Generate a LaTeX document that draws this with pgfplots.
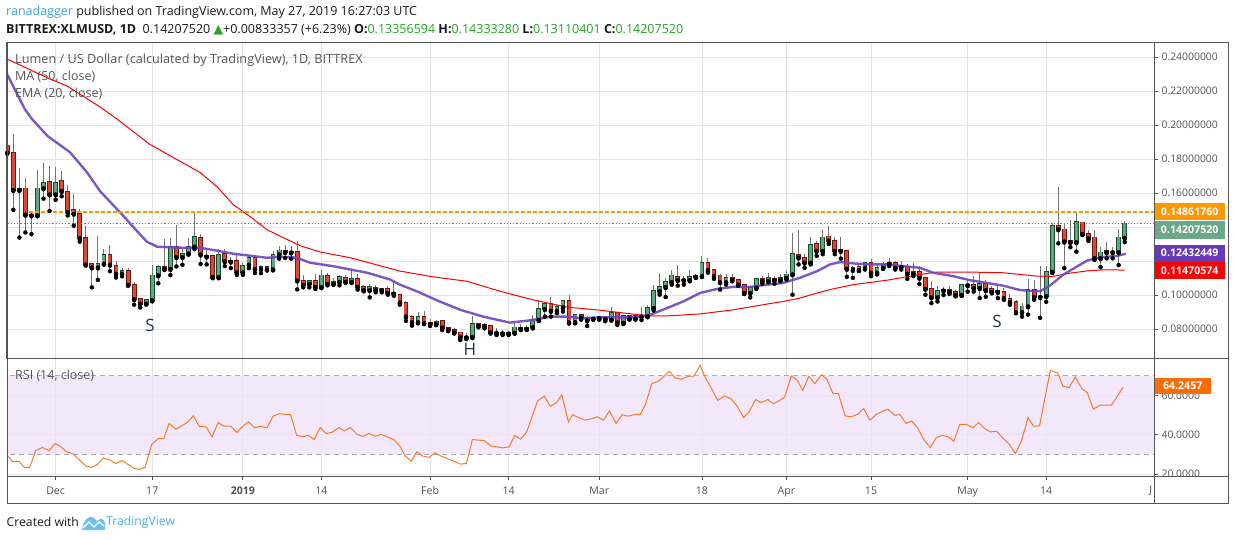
\documentclass[border=0pt]{standalone}
\usepackage{fontspec}
\setmainfont{Open Sans}
\newfontfamily\dejavu{DejaVu Sans}
\usepackage{pgfplots}
\pgfplotsset{compat=1.18}
\usepackage{pgfplotstable}
\definecolor{tvblue}{RGB}{59,160,230}
\definecolor{tvblue2}{RGB}{70,172,230}
\definecolor{txtdark}{RGB}{25,25,25}
\definecolor{hdrgreen}{RGB}{35,165,35}
\definecolor{labelcol}{RGB}{80,80,80}
\definecolor{legendcol}{RGB}{85,85,85}
\definecolor{gridcol}{RGB}{228,228,228}
\definecolor{framecol}{RGB}{85,85,85}
\definecolor{upfill}{RGB}{96,166,128}
\definecolor{upedge}{RGB}{25,75,45}
\definecolor{dnfill}{RGB}{221,72,52}
\definecolor{dnedge}{RGB}{105,25,18}
\definecolor{wickcol}{RGB}{115,115,115}
\definecolor{emacol}{RGB}{110,70,190}
\definecolor{macol}{RGB}{255,0,0}
\definecolor{orangecol}{RGB}{255,152,0}
\definecolor{greenline}{RGB}{80,140,110}
\definecolor{greenbox}{RGB}{106,168,135}
\definecolor{purplebox}{RGB}{103,58,183}
\definecolor{bandcol}{RGB}{240,225,251}
\definecolor{dashcol}{RGB}{175,165,185}
\definecolor{rsicol}{RGB}{245,124,40}
\definecolor{rsibox}{RGB}{255,109,0}
\definecolor{hscol}{RGB}{35,55,75}
\definecolor{logolight}{RGB}{110,190,240}

\pgfplotstableread{
i o h l c
0 0.1880 0.1885 0.1836 0.1836
1 0.1836 0.1946 0.1501 0.1617
2 0.1617 0.1747 0.1338 0.1627
3 0.1627 0.1687 0.1368 0.1472
4 0.1472 0.1488 0.1358 0.1468
5 0.1468 0.1737 0.1466 0.1627
6 0.1627 0.1777 0.1567 0.1657
7 0.1663 0.1761 0.1494 0.1591
8 0.1591 0.1753 0.1560 0.1657
9 0.1669 0.1731 0.1581 0.1611
10 0.1607 0.1647 0.1468 0.1488
11 0.1498 0.1593 0.1408 0.1478
12 0.1478 0.1508 0.1314 0.1334
13 0.1334 0.1404 0.1178 0.1178
14 0.1182 0.1188 0.1045 0.1162
15 0.1162 0.1348 0.1089 0.1184
16 0.1184 0.1268 0.1180 0.1238
17 0.1238 0.1294 0.1140 0.1178
18 0.1172 0.1202 0.1103 0.1125
19 0.1125 0.1158 0.1110 0.1143
20 0.1143 0.1158 0.1059 0.1059
21 0.1059 0.1075 0.0943 0.0975
22 0.0975 0.0979 0.0927 0.0949
23 0.0949 0.0973 0.0945 0.0969
24 0.0969 0.1174 0.0963 0.1115
25 0.1115 0.1178 0.1069 0.1164
26 0.1164 0.1328 0.1150 0.1153
27 0.1153 0.1338 0.1117 0.1284
28 0.1284 0.1414 0.1168 0.1222
29 0.1222 0.1272 0.1178 0.1244
30 0.1244 0.1338 0.1238 0.1284
31 0.1284 0.1488 0.1270 0.1344
32 0.1338 0.1358 0.1182 0.1238
33 0.1232 0.1276 0.1180 0.1226
34 0.1228 0.1238 0.1099 0.1105
35 0.1105 0.1268 0.1099 0.1238
36 0.1242 0.1272 0.1170 0.1198
37 0.1200 0.1226 0.1158 0.1196
38 0.1200 0.1242 0.1119 0.1133
39 0.1133 0.1188 0.1119 0.1172
40 0.1178 0.1238 0.1158 0.1218
41 0.1218 0.1238 0.1129 0.1153
42 0.1153 0.1178 0.1129 0.1164
43 0.1164 0.1172 0.1145 0.1150
44 0.1150 0.1258 0.1147 0.1238
45 0.1238 0.1288 0.1214 0.1262
46 0.1262 0.1294 0.1218 0.1252
47 0.1252 0.1290 0.1214 0.1250
48 0.1256 0.1320 0.1033 0.1085
49 0.1085 0.1115 0.1045 0.1059
50 0.1065 0.1090 0.1045 0.1085
51 0.1085 0.1125 0.1036 0.1046
52 0.1046 0.1150 0.1042 0.1115
53 0.1111 0.1131 0.1057 0.1065
54 0.1065 0.1101 0.1063 0.1079
55 0.1077 0.1115 0.1057 0.1107
56 0.1101 0.1115 0.1075 0.1077
57 0.1077 0.1154 0.1071 0.1095
58 0.1095 0.1121 0.1032 0.1048
59 0.1048 0.1061 0.1022 0.1028
60 0.1028 0.1067 0.0986 0.1048
61 0.1042 0.1061 0.1016 0.1028
62 0.1028 0.1044 0.1016 0.1034
63 0.1034 0.1051 0.1002 0.1012
64 0.1014 0.1081 0.0996 0.1008
65 0.1000 0.1008 0.0943 0.0956
66 0.0952 0.0966 0.0848 0.0873
67 0.0873 0.0883 0.0820 0.0840
68 0.0840 0.0903 0.0834 0.0873
69 0.0873 0.0907 0.0834 0.0834
70 0.0834 0.0862 0.0818 0.0828
71 0.0828 0.0852 0.0824 0.0840
72 0.0848 0.0854 0.0794 0.0808
73 0.0808 0.0814 0.0788 0.0794
74 0.0794 0.0804 0.0774 0.0780
75 0.0780 0.0784 0.0735 0.0751
76 0.0751 0.0774 0.0741 0.0753
77 0.0753 0.0877 0.0747 0.0828
78 0.0828 0.0834 0.0810 0.0820
79 0.0824 0.0834 0.0804 0.0814
80 0.0818 0.0824 0.0774 0.0780
81 0.0780 0.0804 0.0765 0.0778
82 0.0780 0.0794 0.0765 0.0774
83 0.0774 0.0784 0.0765 0.0778
84 0.0778 0.0834 0.0774 0.0810
85 0.0810 0.0830 0.0794 0.0800
86 0.0800 0.0826 0.0796 0.0810
87 0.0810 0.0883 0.0804 0.0853
88 0.0853 0.0972 0.0848 0.0917
89 0.0917 0.0953 0.0873 0.0947
90 0.0947 0.0988 0.0873 0.0907
91 0.0907 0.0943 0.0893 0.0929
92 0.0927 0.0972 0.0903 0.0966
93 0.0966 0.1002 0.0834 0.0838
94 0.0840 0.0887 0.0834 0.0881
95 0.0881 0.0889 0.0855 0.0867
96 0.0867 0.0877 0.0818 0.0850
97 0.0860 0.0877 0.0855 0.0867
98 0.0863 0.0871 0.0855 0.0869
99 0.0869 0.0877 0.0846 0.0857
100 0.0855 0.0929 0.0850 0.0897
101 0.0893 0.0903 0.0824 0.0838
102 0.0836 0.0881 0.0830 0.0875
103 0.0875 0.0881 0.0857 0.0861
104 0.0861 0.0883 0.0857 0.0875
105 0.0873 0.0927 0.0853 0.0875
106 0.0875 0.0943 0.0871 0.0923
107 0.0923 0.1061 0.0909 0.1026
108 0.1022 0.1127 0.1002 0.1050
109 0.1046 0.1101 0.0988 0.1077
110 0.1075 0.1150 0.1061 0.1115
111 0.1107 0.1174 0.1055 0.1087
112 0.1091 0.1111 0.1061 0.1087
113 0.1087 0.1145 0.1081 0.1107
114 0.1107 0.1121 0.1101 0.1113
115 0.1111 0.1230 0.1107 0.1190
116 0.1190 0.1220 0.1131 0.1147
117 0.1147 0.1151 0.1095 0.1111
118 0.1115 0.1125 0.1032 0.1075
119 0.1075 0.1121 0.1061 0.1101
120 0.1101 0.1121 0.1081 0.1087
121 0.1091 0.1097 0.1055 0.1061
122 0.1057 0.1061 0.1006 0.1012
123 0.1012 0.1052 0.0986 0.1042
124 0.1042 0.1101 0.1036 0.1095
125 0.1095 0.1111 0.1067 0.1081
126 0.1081 0.1127 0.1075 0.1101
127 0.1097 0.1111 0.1067 0.1087
128 0.1087 0.1121 0.1081 0.1101
129 0.1101 0.1141 0.1091 0.1121
130 0.1121 0.1364 0.1002 0.1240
131 0.1234 0.1384 0.1180 0.1220
132 0.1220 0.1240 0.1160 0.1190
133 0.1190 0.1339 0.1180 0.1293
134 0.1299 0.1319 0.1230 0.1259
135 0.1259 0.1384 0.1240 0.1339
136 0.1345 0.1406 0.1300 0.1319
137 0.1319 0.1339 0.1240 0.1259
138 0.1265 0.1339 0.1214 0.1259
139 0.1259 0.1265 0.1107 0.1154
140 0.1160 0.1170 0.1101 0.1147
141 0.1147 0.1190 0.1141 0.1166
142 0.1160 0.1194 0.1150 0.1190
143 0.1190 0.1210 0.1111 0.1131
144 0.1131 0.1180 0.1121 0.1160
145 0.1160 0.1194 0.1154 0.1176
146 0.1184 0.1220 0.1170 0.1190
147 0.1190 0.1200 0.1150 0.1160
148 0.1164 0.1200 0.1150 0.1166
149 0.1166 0.1180 0.1095 0.1125
150 0.1125 0.1190 0.1111 0.1137
151 0.1137 0.1170 0.1065 0.1101
152 0.1101 0.1107 0.1002 0.1036
153 0.1036 0.1081 0.0952 0.0986
154 0.0986 0.1055 0.0962 0.1026
155 0.1026 0.1048 0.1000 0.1030
156 0.1030 0.1052 0.1006 0.1018
157 0.1018 0.1028 0.0992 0.1000
158 0.1000 0.1067 0.0996 0.1059
159 0.1059 0.1081 0.1020 0.1057
160 0.1059 0.1111 0.1020 0.1040
161 0.1040 0.1131 0.0982 0.1065
162 0.1065 0.1091 0.0990 0.1028
163 0.1036 0.1055 0.1010 0.1018
164 0.1018 0.1065 0.0982 0.1026
165 0.1020 0.1042 0.0972 0.0982
166 0.0978 0.1004 0.0943 0.0958
167 0.0958 0.0972 0.0893 0.0899
168 0.0899 0.0952 0.0873 0.0933
169 0.0933 0.1094 0.0885 0.1031
170 0.1031 0.1091 0.0972 0.0987
171 0.0988 0.1168 0.0866 0.0992
172 0.0993 0.1168 0.0960 0.1136
173 0.1136 0.1421 0.1130 0.1405
174 0.1405 0.1635 0.1304 0.1386
175 0.1386 0.1421 0.1158 0.1314
176 0.1318 0.1440 0.1281 0.1310
177 0.1310 0.1493 0.1255 0.1431
178 0.1427 0.1431 0.1353 0.1359
179 0.1357 0.1382 0.1318 0.1333
180 0.1339 0.1382 0.1206 0.1216
181 0.1216 0.1284 0.1164 0.1251
182 0.1259 0.1314 0.1216 0.1251
183 0.1255 0.1284 0.1216 0.1251
184 0.1251 0.1386 0.1176 0.1339
185 0.1336 0.1433 0.1311 0.1421
}\candles

\pgfplotstableread{
i v
-0.05 0.2300
2.9 0.2093
4.1 0.2034
6.7 0.1934
10.4 0.1839
13.2 0.1721
15.4 0.1609
18.7 0.1485
20.8 0.1402
23.1 0.1314
24.8 0.1284
29.1 0.1278
31.9 0.1278
34.7 0.1261
37.4 0.1243
40.2 0.1231
43.0 0.1219
45.2 0.1225
47.3 0.1222
48.5 0.1212
50.1 0.1190
53.9 0.1170
59.6 0.1131
63.4 0.1091
65.0 0.1061
67.8 0.1022
71.6 0.0962
75.0 0.0913
78.8 0.0873
83.2 0.0838
87.0 0.0853
89.9 0.0873
92.7 0.0873
95.3 0.0863
98.1 0.0869
103.6 0.0869
106.4 0.0883
109.2 0.0923
111.9 0.0962
114.7 0.1012
117.5 0.1036
120.2 0.1048
123.0 0.1048
125.8 0.1061
128.4 0.1071
131.2 0.1101
134.1 0.1141
136.2 0.1180
137.9 0.1194
140.0 0.1186
142.8 0.1180
145.6 0.1180
148.3 0.1170
151.1 0.1160
153.3 0.1131
156.6 0.1111
159.4 0.1087
162.2 0.1071
164.9 0.1055
167.7 0.1029
171.0 0.1022
172.6 0.1055
174.8 0.1119
177.1 0.1168
178.8 0.1203
180.9 0.1222
183.7 0.1230
185.2 0.1243
}\ema

\pgfplotstableread{
i v
-0.05 0.2388
7.1 0.2270
9.9 0.2229
15.4 0.2105
18.2 0.2034
23.6 0.1886
31.9 0.1721
34.7 0.1638
37.4 0.1532
40.2 0.1461
43.0 0.1384
45.7 0.1337
48.5 0.1290
51.8 0.1253
56.7 0.1220
65.0 0.1141
70.5 0.1107
76.1 0.1081
81.6 0.1022
87.0 0.0972
92.7 0.0929
98.1 0.0911
103.6 0.0888
106.4 0.0877
109.2 0.0877
114.7 0.0889
120.2 0.0913
125.8 0.0947
128.4 0.0962
131.2 0.0982
134.1 0.1012
136.2 0.1032
140.0 0.1061
145.6 0.1087
151.1 0.1121
153.9 0.1135
159.4 0.1135
164.9 0.1131
170.5 0.1111
173.1 0.1110
176.0 0.1129
178.8 0.1142
181.4 0.1148
185.0 0.1147
}\sma

\pgfplotstableread{
i r
-0.1 30.0
0.9 26.3
1.9 26.6
2.8 23.4
3.7 23.4
4.7 31.9
5.8 33.6
6.9 31.9
7.9 35.6
8.9 33.9
9.8 31.4
10.9 30.3
12.0 27.1
13.0 24.1
14.0 23.4
15.0 25.1
15.9 28.3
17.0 27.1
18.0 25.4
19.0 26.9
20.0 24.9
21.0 22.9
21.9 22.4
22.8 23.4
23.9 35.1
25.0 38.1
25.9 38.1
26.8 45.8
27.9 42.9
28.9 44.6
29.9 46.6
30.8 49.7
31.8 44.4
32.9 44.1
33.9 39.0
34.9 46.3
35.9 44.4
37.0 44.4
38.0 41.2
38.9 44.1
39.9 46.6
41.0 43.6
41.9 44.4
43.0 43.6
44.0 49.5
45.0 50.8
45.9 50.5
46.9 50.3
47.9 39.8
48.9 39.0
49.8 39.8
50.8 37.6
51.8 43.7
52.8 40.7
53.8 41.4
54.9 43.7
55.8 42.0
56.8 43.7
57.9 40.3
58.9 39.2
59.9 40.7
60.9 39.3
61.9 40.2
62.9 39.0
64.0 37.6
65.0 34.2
65.9 29.2
66.9 26.6
67.8 31.4
68.8 29.2
69.8 28.5
70.8 30.8
71.8 29.2
72.8 28.0
73.9 26.6
75.0 25.1
76.0 25.4
77.0 37.6
78.1 37.3
79.0 37.1
80.0 34.4
81.0 33.9
82.0 33.4
83.1 33.9
84.0 39.7
85.0 37.8
86.0 41.5
86.9 49.5
87.8 57.3
88.9 59.8
89.9 54.6
90.9 56.3
91.8 60.5
92.9 46.6
93.6 50.3
94.7 48.6
95.7 47.5
96.8 48.3
97.7 49.2
98.7 47.5
99.7 52.2
100.8 45.8
101.8 50.3
102.7 49.5
103.8 50.3
104.8 50.3
105.7 55.9
106.7 66.1
107.8 67.3
108.7 69.8
109.6 72.4
110.6 69.0
111.6 68.3
112.7 69.8
113.7 70.0
114.7 75.4
115.6 69.0
116.6 63.6
117.6 57.6
118.7 59.8
119.8 58.5
120.8 54.7
121.9 48.8
122.8 51.7
123.9 58.0
124.8 56.4
125.9 58.0
126.8 55.9
127.8 57.3
128.7 59.3
129.8 70.0
130.8 67.8
131.7 62.7
132.7 69.8
133.7 66.1
134.8 70.7
135.7 68.3
136.7 61.0
137.6 61.0
138.7 49.7
139.7 49.2
140.8 50.5
141.8 53.4
142.8 47.5
143.9 50.5
144.9 52.0
145.8 53.1
146.9 50.0
147.8 50.3
148.8 45.8
149.7 47.1
150.7 43.6
151.8 37.3
152.8 33.6
153.8 38.6
154.8 39.8
155.8 39.0
156.7 36.8
157.7 45.4
158.8 45.3
159.9 43.6
160.8 46.3
161.8 43.2
162.8 41.5
163.8 41.9
164.9 38.1
165.8 35.6
166.9 30.5
167.9 36.8
169.0 48.8
169.9 44.4
170.9 44.6
171.8 59.0
172.7 72.9
173.9 71.5
174.8 64.7
175.8 64.1
176.8 69.5
177.9 63.6
178.8 61.5
179.8 53.1
180.9 55.1
181.8 55.1
182.8 55.1
183.8 59.8
184.7 64.2
}\rsi

\begin{document}
\begin{tikzpicture}[x=1pt,y=1pt]
\path[use as bounding box] (0,0) rectangle (1234,-540);

% ---------------- price panel ----------------
\begin{axis}[
  at={(7pt,-358pt)}, anchor=south west,
  width=1147pt, height=315pt, scale only axis,
  xmin=-0.05, xmax=189.85, ymin=0.06298, ymax=0.2482,
  axis line style={draw=framecol, line width=1pt},
  grid=major, grid style={draw=gridcol, line width=0.8pt},
  xtick={8,24,39,52,70,83,98,115,129,143,159,172}, xticklabels={},
  x tick style={draw=none},
  ytick={0.08,0.10,0.12,0.14,0.16,0.18,0.20,0.22,0.24},
  yticklabels={0.08000000,0.10000000,,,0.16000000,0.18000000,0.20000000,0.22000000,0.24000000},
  scaled y ticks=false,
  ytick pos=right, yticklabel pos=right,
  y tick style={draw=labelcol, line width=0.8pt}, tick align=outside, major tick length=4pt,
  yticklabel style={font=\fontsize{10.4}{12}\selectfont, text=labelcol},
]
% wicks
\addplot[only marks, mark=none, forget plot,
  error bars/.cd, y dir=plus, y explicit, error mark=none,
  error bar style={draw=wickcol, line width=1pt}]
  table[x=i, y=l, y error plus expr={\thisrow{h}-\thisrow{l}}] {\candles};
% up bodies
\addplot[only marks, mark=none, forget plot,
  restrict expr to domain={\thisrow{c}-\thisrow{o}}{0:1},
  error bars/.cd, y dir=plus, y explicit, error mark=none,
  error bar style={draw=upedge, line width=4.8pt}]
  table[x=i, y expr={\thisrow{o}-0.0005}, y error plus expr={\thisrow{c}-\thisrow{o}+0.001}] {\candles};
\addplot[only marks, mark=none, forget plot,
  restrict expr to domain={\thisrow{c}-\thisrow{o}}{0:1},
  error bars/.cd, y dir=plus, y explicit, error mark=none,
  error bar style={draw=upfill, line width=3pt}]
  table[x=i, y=o, y error plus expr={\thisrow{c}-\thisrow{o}}] {\candles};
% down bodies
\addplot[only marks, mark=none, forget plot,
  restrict expr to domain={\thisrow{o}-\thisrow{c}}{0.00001:1},
  error bars/.cd, y dir=plus, y explicit, error mark=none,
  error bar style={draw=dnedge, line width=4.8pt}]
  table[x=i, y expr={\thisrow{c}-0.0005}, y error plus expr={\thisrow{o}-\thisrow{c}+0.001}] {\candles};
\addplot[only marks, mark=none, forget plot,
  restrict expr to domain={\thisrow{o}-\thisrow{c}}{0.00001:1},
  error bars/.cd, y dir=plus, y explicit, error mark=none,
  error bar style={draw=dnfill, line width=3pt}]
  table[x=i, y=c, y error plus expr={\thisrow{o}-\thisrow{c}}] {\candles};
% moving averages
\addplot[macol, line width=1pt, mark=none] table[x=i, y=v] {\sma};
\addplot[emacol, line width=2.4pt, mark=none, opacity=0.9] table[x=i, y=v] {\ema};
% horizontal lines
\addplot[orangecol, line width=2pt, dash pattern=on 4pt off 2pt, mark=none] coordinates {(3.6,0.1486176) (191,0.1486176)};
\addplot[greenline, line width=0.8pt, dash pattern=on 1.2pt off 2pt, mark=none] coordinates {(-1,0.1420752) (191,0.1420752)};
\end{axis}

% ---------------- RSI panel ----------------
\begin{axis}[
  at={(7pt,-476pt)}, anchor=south west,
  width=1147pt, height=118pt, scale only axis,
  xmin=-0.05, xmax=189.85, ymin=19.04, ymax=79.17,
  axis line style={draw=framecol, line width=1pt},
  grid=major, grid style={draw=gridcol, line width=0.8pt},
  xtick={8,24,39,52,70,83,98,115,129,143,159,172},
  xticklabels={Dec,17,\textbf{2019},14,Feb,14,Mar,18,Apr,15,May,14},
  xtick pos=bottom,
  ytick={20,40,60}, yticklabels={20.0000,40.0000,60.0000},
  ytick pos=right, yticklabel pos=right,
  tick style={draw=labelcol, line width=0.8pt}, tick align=outside, major tick length=4pt,
  yticklabel style={font=\fontsize{10.4}{12}\selectfont, text=labelcol},
  xticklabel style={font=\fontsize{10.6}{12}\selectfont, text=labelcol, yshift=-3pt},
]
\addplot[draw=none, fill=bandcol, fill opacity=0.8, forget plot] coordinates {(-1,30) (-1,70) (200,70) (200,30) (-1,30)};
\addplot[dashcol, line width=1pt, dash pattern=on 5pt off 4pt, mark=none] coordinates {(-1,70) (200,70)};
\addplot[dashcol, line width=1pt, dash pattern=on 5pt off 4pt, mark=none] coordinates {(-1,30) (200,30)};
\addplot[rsicol, line width=1pt, mark=none] table[x=i, y=r] {\rsi};
\end{axis}

% cut the lower half of the last RSI label, as in the reference
\fill[white] (1154.6,-476.6) rectangle (1227.4,-486);
% frame of the widget
\draw[framecol, line width=1pt] (7,-43) rectangle (1228,-503);
\draw[framecol, line width=1pt] (1154,-43) -- (1154,-503);
\draw[framecol, line width=1pt] (1154,-358) -- (1228,-358);
\draw[framecol, line width=1pt] (1154,-476) -- (1228,-476);

% ---------------- texts ----------------
\node[anchor=west, inner sep=0, font=\fontsize{12.5}{14}\selectfont, text=txtdark] at (6,-12)
  {\textcolor{tvblue}{ranadagger} published on TradingView.com, May 27, 2019 16:27:03 UTC};
\node[anchor=west, inner sep=0, font=\fontsize{12.5}{14}\selectfont, text=txtdark] at (6,-30)
  {\textbf{BITTREX:XLMUSD, 1D}\ \ 0.14207520 {\dejavu\textcolor{hdrgreen}{▲}}+0.00833357 (+6.23\%) \textbf{O:}\textcolor{hdrgreen}{0.13356594} \textbf{H:}\textcolor{hdrgreen}{0.14333280} \textbf{L:}\textcolor{hdrgreen}{0.13110401} \textbf{C:}\textcolor{hdrgreen}{0.14207520}};
\node[anchor=west, inner sep=0, font=\fontsize{12.7}{14}\selectfont, text=legendcol] at (15,-60)
  {Lumen / US Dollar (calculated by TradingView), 1D, BITTREX};
\node[anchor=west, inner sep=0, font=\fontsize{12.5}{14}\selectfont, text=legendcol] at (15,-77) {MA (50, close)};
\node[anchor=west, inner sep=0, font=\fontsize{12.5}{14}\selectfont, text=legendcol] at (15,-94) {EMA (20, close)};
\node[anchor=west, inner sep=0, font=\fontsize{12.5}{14}\selectfont, text=legendcol] at (15,-376) {RSI (14, close)};

\node[font=\fontsize{17}{18}\selectfont, text=hscol] at (150,-325) {S};
\node[font=\fontsize{17}{18}\selectfont, text=hscol] at (470,-349) {H};
\node[font=\fontsize{17}{18}\selectfont, text=hscol] at (997,-321) {S};

% value boxes
\node[anchor=west, fill=orangecol, text=white, font=\bfseries\fontsize{10.6}{12}\selectfont, minimum height=17pt, minimum width=70pt, inner sep=0] at (1154.5,-212) {0.14861760};
\node[anchor=west, fill=greenbox, text=white, font=\bfseries\fontsize{10.6}{12}\selectfont, minimum height=17pt, minimum width=70pt, inner sep=0] at (1154.5,-230) {0.14207520};
\node[anchor=west, fill=purplebox, text=white, font=\bfseries\fontsize{10.6}{12}\selectfont, minimum height=17pt, minimum width=70pt, inner sep=0] at (1154.5,-253) {0.12432449};
\node[anchor=west, fill=macol, text=white, font=\bfseries\fontsize{10.6}{12}\selectfont, minimum height=17pt, minimum width=70pt, inner sep=0] at (1154.5,-270.5) {0.11470574};
\node[anchor=west, fill=rsibox, text=white, font=\bfseries\fontsize{10.6}{12}\selectfont, minimum height=16.5pt, minimum width=56pt, inner sep=0] at (1154.5,-386) {64.2457};

\node[anchor=east, inner sep=0, font=\fontsize{10.6}{12}\selectfont, text=labelcol] at (1152.5,-491) {J};

% footer
\node[anchor=west, inner sep=0, font=\fontsize{12.2}{14}\selectfont, text=txtdark] at (6.5,-522) {Created with};
\fill[logolight] (82,-530) .. controls (82,-524) and (86,-518) .. (90,-517) .. controls (93,-516) and (95,-519) .. (97,-521) .. controls (100,-518) and (104,-518) .. (105,-523) -- (105,-530) -- cycle;
\draw[white, line width=1.3pt] (83,-528) -- (89,-522) -- (94,-527) -- (99,-522) -- (104,-526);
\node[anchor=west, inner sep=0, font=\fontsize{12.2}{14}\selectfont, text=tvblue2] at (106,-522) {TradingView};
\end{tikzpicture}
\end{document}
